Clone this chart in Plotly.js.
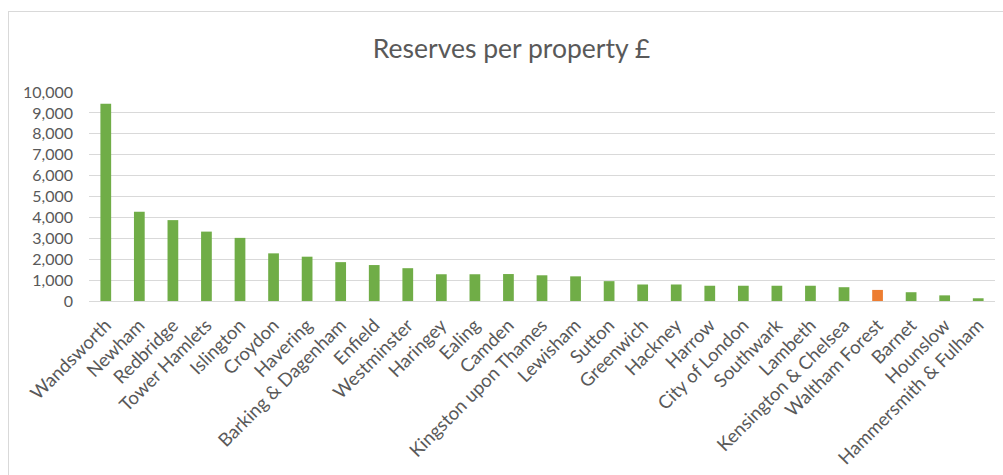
<!DOCTYPE html>
<html>
<head>
<meta charset="utf-8">
<script src="https://cdn.plot.ly/plotly-3.0.1.min.js"></script>
<style>
html,body{margin:0;padding:0;background:#fff;width:1003px;height:475px;overflow:hidden;}
#chart{position:absolute;left:8px;top:11px;width:995px;height:464px;border-left:1px solid #d9d9d9;border-top:1px solid #d9d9d9;box-sizing:border-box;}
</style>
</head>
<body>
<div id="chart"></div>
<script>
const boroughs = ["Wandsworth","Newham","Redbridge","Tower Hamlets","Islington","Croydon","Havering","Barking & Dagenham","Enfield","Westminster","Haringey","Ealing","Camden","Kingston upon Thames","Lewisham","Sutton","Greenwich","Hackney","Harrow","City of London","Southwark","Lambeth","Kensington & Chelsea","Waltham Forest","Barnet","Hounslow","Hammersmith & Fulham"];
const reserves = [9440,4270,3870,3320,3020,2280,2120,1860,1720,1570,1280,1280,1290,1230,1180,950,790,790,730,730,730,730,660,530,420,270,130];
const highlight = "Waltham Forest";
const green = "#70AD47", orange = "#ED7D31";
const colors = boroughs.map(b => b === highlight ? orange : green);
const yTicks = [0,1000,2000,3000,4000,5000,6000,7000,8000,9000,10000];

Plotly.newPlot("chart", [{
  type: "bar",
  x: boroughs,
  y: reserves,
  marker: {color: colors},
  hoverinfo: "x+y"
}], {
  width: 995, height: 464,
  margin: {l: 80, r: 9, t: 80, b: 175},
  paper_bgcolor: "rgba(0,0,0,0)",
  plot_bgcolor: "#fff",
  bargap: 0.68,
  showlegend: false,
  font: {family: "Lato, 'Open Sans', sans-serif", color: "#595959", size: 16},
  title: {text: "Reserves per property £", font: {size: 26.5, color: "#595959"}, x: 0.505, xanchor: "center", y: 0.92, yanchor: "middle", yref: "container"},
  xaxis: {tickangle: -45, showgrid: false, showline: false, ticks: "", tickfont: {size: 18.5}, ticklabelstandoff: 9, automargin: false, fixedrange: true},
  yaxis: {range: [0, 10000], tickvals: yTicks, tickformat: ",d", showgrid: true, gridcolor: "#d9d9d9", gridwidth: 1, zeroline: true, zerolinecolor: "#d9d9d9", zerolinewidth: 1, ticks: "", tickfont: {size: 16}, ticklabelstandoff: 15, automargin: false, fixedrange: true}
}, {displayModeBar: false, staticPlot: true});
</script>
</body>
</html>
